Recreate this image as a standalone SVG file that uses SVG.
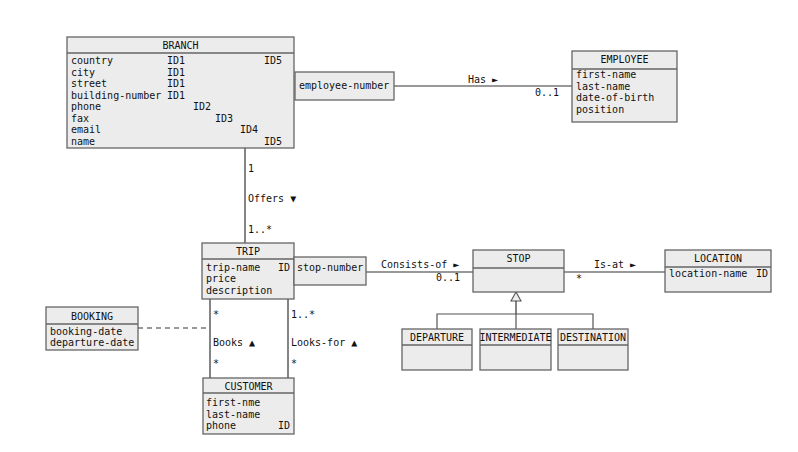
<svg xmlns="http://www.w3.org/2000/svg" width="798" height="452" viewBox="0 0 798 452">
<style>
text{font-family:"DejaVu Sans Mono","Liberation Mono",monospace;font-size:10px;fill:#111}
.box{fill:#ececec;stroke:#666;stroke-width:1.3}
.sep{stroke:#666;stroke-width:1.3}
.t{text-anchor:middle}
.c{fill:none;stroke:#333;stroke-width:1.2}
.g{fill:none;stroke:#555;stroke-width:1.2}
.d{fill:none;stroke:#333;stroke-width:1.2;stroke-dasharray:5,4}
</style>
<rect width="798" height="452" fill="#fff"/>
<g id="connectors">
<line class="c" x1="394" y1="86" x2="572" y2="86"/>
<text x="468" y="83">Has ►</text>
<text x="535" y="96">0..1</text>
<line class="c" x1="245" y1="148" x2="245" y2="243"/>
<text x="248" y="172">1</text>
<text x="248" y="202">Offers ▼</text>
<text x="248" y="233">1..*</text>
<line class="c" x1="366" y1="272" x2="473" y2="272"/>
<text x="381" y="268">Consists-of ►</text>
<text x="436" y="281">0..1</text>
<line class="c" x1="564" y1="272" x2="665" y2="272"/>
<text x="594" y="268">Is-at ►</text>
<text x="576" y="282">*</text>
<polygon points="516,292 511,301 521,301" fill="#eee" stroke="#555" stroke-width="1.1"/>
<line class="c" x1="516" y1="301" x2="516" y2="314"/>
<polyline class="g" points="437,329 437,314 593,314 593,329"/>
<line class="g" x1="516" y1="314" x2="516" y2="329"/>
<line class="c" x1="210" y1="299" x2="210" y2="378"/>
<line class="c" x1="288" y1="299" x2="288" y2="378"/>
<line class="d" x1="138" y1="328" x2="210" y2="328"/>
<text x="213" y="318">*</text>
<text x="213" y="346">Books ▲</text>
<text x="213" y="367">*</text>
<text x="291" y="318">1..*</text>
<text x="291" y="346">Looks-for ▲</text>
<text x="291" y="367">*</text>
</g>
<g id="branch">
<rect class="box" x="67" y="37" width="227" height="111"/>
<line class="sep" x1="67" y1="53" x2="294" y2="53"/>
<text class="t" x="180.5" y="49">BRANCH</text>
<text x="71" y="64">country</text><text x="167" y="64">ID1</text><text x="264" y="64">ID5</text>
<text x="71" y="75.5">city</text><text x="167" y="75.5">ID1</text>
<text x="71" y="87">street</text><text x="167" y="87">ID1</text>
<text x="71" y="98.5">building-number</text><text x="167" y="98.5">ID1</text>
<text x="71" y="110">phone</text><text x="193" y="110">ID2</text>
<text x="71" y="121.5">fax</text><text x="215" y="121.5">ID3</text>
<text x="71" y="133">email</text><text x="240" y="133">ID4</text>
<text x="71" y="144.5">name</text><text x="264" y="144.5">ID5</text>
</g>
<g id="employee-number">
<rect class="box" x="295" y="72" width="99" height="28"/>
<text x="299" y="89">employee-number</text>
</g>
<g id="employee">
<rect class="box" x="572" y="51" width="105" height="71"/>
<line class="sep" x1="572" y1="69" x2="677" y2="69"/>
<text class="t" x="624.5" y="63">EMPLOYEE</text>
<text x="576" y="78">first-name</text>
<text x="576" y="89.5">last-name</text>
<text x="576" y="101">date-of-birth</text>
<text x="576" y="112.5">position</text>
</g>
<g id="trip">
<rect class="box" x="202" y="243" width="92" height="56"/>
<line class="sep" x1="202" y1="259" x2="294" y2="259"/>
<text class="t" x="248" y="255">TRIP</text>
<text x="206" y="270.5">trip-name</text><text x="278" y="270.5">ID</text>
<text x="206" y="282">price</text>
<text x="206" y="293.5">description</text>
</g>
<g id="stop-number">
<rect class="box" x="294" y="257" width="72" height="28"/>
<text x="297" y="271">stop-number</text>
</g>
<g id="stop">
<rect class="box" x="473" y="250" width="91" height="42"/>
<line class="sep" x1="473" y1="268" x2="564" y2="268"/>
<text class="t" x="518.5" y="262">STOP</text>
</g>
<g id="location">
<rect class="box" x="665" y="250" width="106" height="42"/>
<line class="sep" x1="665" y1="267" x2="771" y2="267"/>
<text class="t" x="718" y="262">LOCATION</text>
<text x="669" y="277">location-name</text><text x="756" y="277">ID</text>
</g>
<g id="departure">
<rect class="box" x="402" y="329" width="70" height="41"/>
<line class="sep" x1="402" y1="345" x2="472" y2="345"/>
<text class="t" x="437" y="341">DEPARTURE</text>
</g>
<g id="intermediate">
<rect class="box" x="480" y="329" width="71" height="41"/>
<line class="sep" x1="480" y1="345" x2="551" y2="345"/>
<text class="t" x="515.5" y="341">INTERMEDIATE</text>
</g>
<g id="destination">
<rect class="box" x="558" y="329" width="70" height="41"/>
<line class="sep" x1="558" y1="345" x2="628" y2="345"/>
<text class="t" x="593" y="341">DESTINATION</text>
</g>
<g id="booking">
<rect class="box" x="46" y="307" width="92" height="43"/>
<line class="sep" x1="46" y1="324" x2="138" y2="324"/>
<text class="t" x="92" y="319.5">BOOKING</text>
<text x="50" y="334.5">booking-date</text>
<text x="50" y="346">departure-date</text>
</g>
<g id="customer">
<rect class="box" x="203" y="378" width="91" height="56"/>
<line class="sep" x1="203" y1="393" x2="294" y2="393"/>
<text class="t" x="248.5" y="389.5">CUSTOMER</text>
<text x="206" y="406">first-nme</text>
<text x="206" y="417.5">last-name</text>
<text x="206" y="429">phone</text><text x="278" y="429">ID</text>
</g>
</svg>
